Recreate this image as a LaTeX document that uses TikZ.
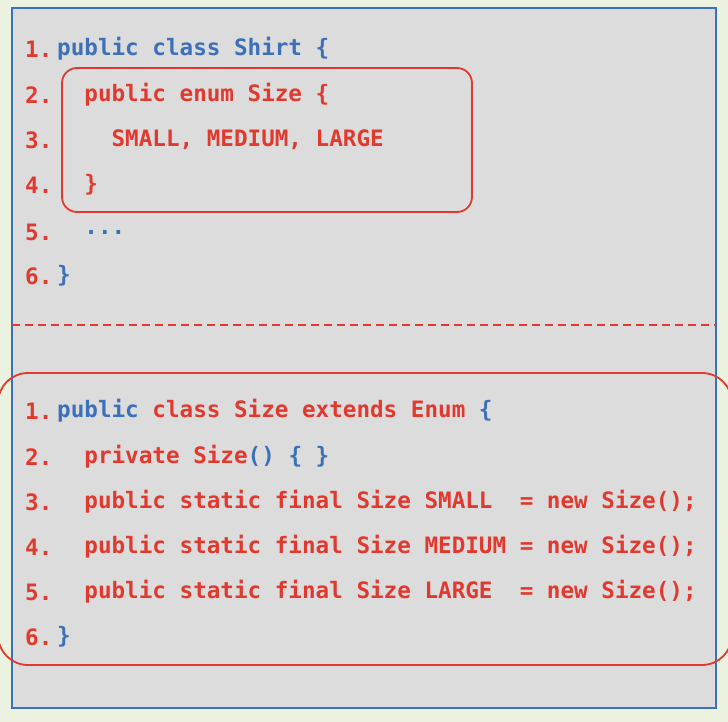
\documentclass[tikz,border=0pt]{standalone}
\usepackage{fontspec}
\setmonofont{DejaVu Sans Mono}
\usepackage{xcolor}
\usetikzlibrary{positioning}
\definecolor{codeblue}{HTML}{3C70B8}
\definecolor{codered}{HTML}{E2392F}
\definecolor{panelgray}{HTML}{DCDCDC}
\definecolor{pagegreen}{HTML}{EBF2DF}
\newcommand{\bl}[1]{\textcolor{codeblue}{#1}}
\newcommand{\rd}[1]{\textcolor{codered}{#1}}
\tikzset{
  codeline/.style={anchor=west, inner sep=0pt, font=\ttfamily\bfseries\fontsize{22.6}{27}\selectfont},
  lineno/.style={codeline, text=codered},
  hilite/.style={draw=codered, line width=1.8pt}
}
\begin{document}
\begin{tikzpicture}[x=1pt, y=-1pt]
        % page and panel
        \fill[pagegreen] (0,0) rectangle (728,722);
        \useasboundingbox (0,0) rectangle (728,722);
        \draw[codeblue, line width=1.8pt, fill=panelgray] (12,8) rectangle (716,708);

        % enum inside the class
        \foreach \n/\y in {1/49,2/95,3/140,4/185,5/232,6/276}
            \node[lineno] (ta\n) at (25,\y) {\n.};
        \node[codeline] (t1) at (57,49) {\bl{public class Shirt \{}};
        \node[codeline] (t2) at (57,95) {\rd{\ \ public enum Size \{}};
        \node[codeline] (t3) at (57,140) {\rd{\ \ \ \ SMALL, MEDIUM, LARGE}};
        \node[codeline] (t4) at (57,185) {\rd{\ \ \}}};
        \node[codeline] (t5) at (57,232) {\bl{\ \ ...}};
        \node[codeline] (t6) at (57,276) {\bl{\}}};
        \draw[hilite, rounded corners=15pt] (62,68) rectangle (472,212);

        % separator
        \draw[codered, line width=1.6pt, dashed, dash pattern=on 8pt off 5pt] (12,325) -- (716,325);

        % equivalent class
        \foreach \n/\y in {1/411,2/457,3/502,4/547,5/592,6/637}
            \node[lineno] (ba\n) at (25,\y) {\n.};
        \node[codeline] (b1) at (57,411) {\bl{public} \rd{class Size extends Enum} \bl{\{}};
        \node[codeline] (b2) at (57,457) {\rd{\ \ private Size}\bl{() \{ \}}};
        \node[codeline] (b3) at (57,502) {\rd{\ \ public static final Size SMALL\ \ = new Size();}};
        \node[codeline] (b4) at (57,547) {\rd{\ \ public static final Size MEDIUM = new Size();}};
        \node[codeline] (b5) at (57,592) {\rd{\ \ public static final Size LARGE\ \ = new Size();}};
        \node[codeline] (b6) at (57,637) {\bl{\}}};
        \draw[hilite, rounded corners=30pt] (-2,373) rectangle (732,665);
\end{tikzpicture}
\end{document}
